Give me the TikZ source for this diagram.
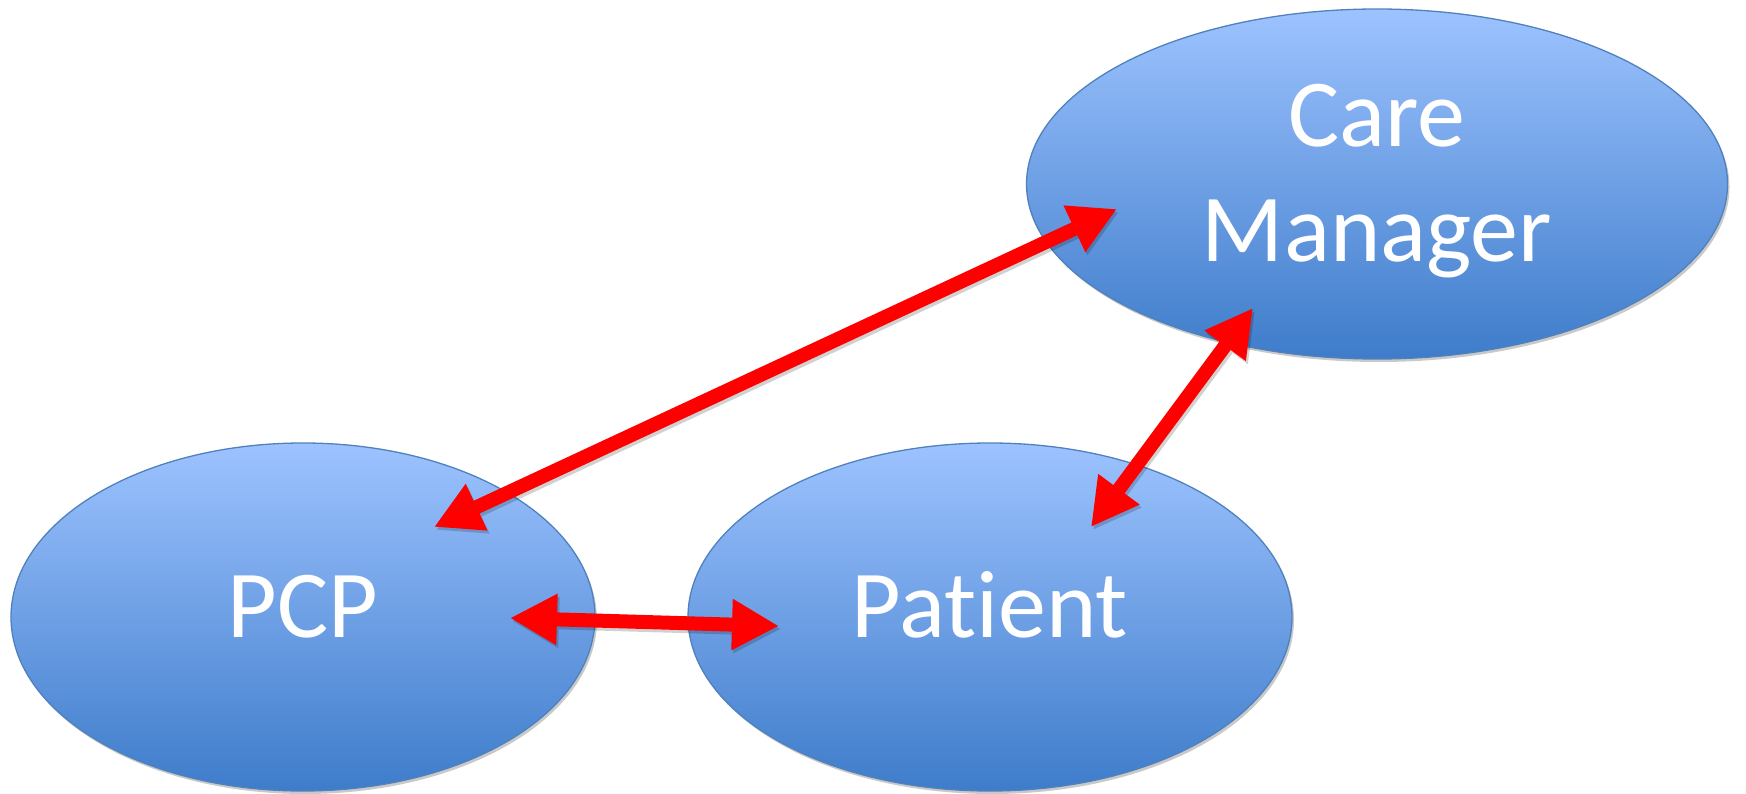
\documentclass[tikz,border=0pt]{standalone}
\usepackage{fontspec}
\setmainfont{Carlito}[Ligatures={NoCommon}]
\usetikzlibrary{shapes.geometric,arrows.meta,shadows}
\definecolor{topblue}{RGB}{157,195,255}
\definecolor{botblue}{RGB}{62,124,202}
\definecolor{edgeblue}{RGB}{79,129,189}
\definecolor{arrowred}{RGB}{255,0,0}
\begin{document}
\begin{tikzpicture}[x=1pt,y=-1pt,
  bubble/.style={ellipse, draw=edgeblue, line width=1.3pt, top color=topblue, bottom color=botblue, inner sep=0pt,
    drop shadow={shadow xshift=2pt,shadow yshift=-3pt,opacity=0.3,fill=black!70}},
  word/.style={text=white, font=\fontsize{96}{115}\selectfont, align=center},
  link/.style={draw=arrowred, line width=14pt, {Triangle[width=48pt,length=47pt]}-{Triangle[width=48pt,length=47pt]}},
  linkshade/.style={draw=black, line width=14pt, {Triangle[width=48pt,length=47pt]}-{Triangle[width=48pt,length=47pt]}}]
\useasboundingbox (0,0) rectangle (1746,794);
\node[bubble, minimum width=701pt, minimum height=350pt,
  label={[word,yshift=3pt]center:Care\\Manager}] (cm) at (1377,184) {};
\node[bubble, minimum width=584pt, minimum height=348pt,
  label={[word,yshift=10.5pt,text height=61pt,text depth=0pt]center:PCP}] (pcp) at (303,617) {};
\node[bubble, minimum width=604pt, minimum height=348pt,
  label={[word,yshift=10.5pt,text height=61pt,text depth=0pt]center:Patient}] (pat) at (990,617) {};
\coordinate (a1s) at (434,527);
\coordinate (a1e) at (1117,209);
\coordinate (a2s) at (1091,527);
\coordinate (a2e) at (1253,308);
\coordinate (a3s) at (510,618);
\coordinate (a3e) at (779,626);
\begin{scope}[transparency group, opacity=0.18]
  \draw[linkshade] ([shift={(2,3)}]a1s) -- ([shift={(2,3)}]a1e);
  \draw[linkshade] ([shift={(2,3)}]a2s) -- ([shift={(2,3)}]a2e);
  \draw[linkshade] ([shift={(2,3)}]a3s) -- ([shift={(2,3)}]a3e);
\end{scope}
\draw[link] (a1s) -- (a1e);
\draw[link] (a2s) -- (a2e);
\draw[link] (a3s) -- (a3e);
\end{tikzpicture}
\end{document}
